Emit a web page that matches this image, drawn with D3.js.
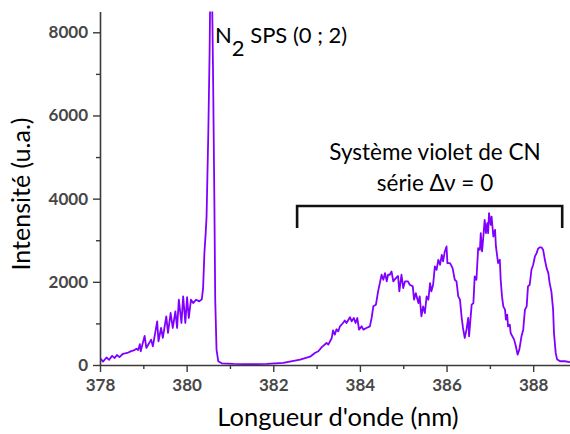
<!DOCTYPE html>
<html>
<head>
<meta charset="utf-8">
<script src="https://cdn.jsdelivr.net/npm/d3@7/dist/d3.min.js"></script>
<style>
  html, body { margin: 0; padding: 0; background: #fff; }
  svg { display: block; }
</style>
</head>
<body>
<svg id="chart" width="570" height="434"></svg>
<script>
// ---- data ----
const wavelength = [
  378.02,378.07,378.15,378.21,378.28,378.34,378.39,378.45,378.53,378.63,
  378.72,378.78,378.84,378.88,378.92,378.94,379.03,379.07,379.18,379.22,
  379.32,379.35,379.41,379.45,379.53,379.57,379.63,379.68,379.74,379.78,
  379.82,379.88,379.92,379.97,380.01,380.05,380.10,380.15,380.22,380.29,
  380.35,380.38,380.41,380.44,380.46,380.50,380.53,380.55,380.58,380.61,
  380.64,380.66,380.69,380.73,380.81,381.08,381.46,381.85,382.23,382.62,
  382.85,382.96,383.04,383.12,383.23,383.27,383.35,383.38,383.42,383.46,
  383.50,383.54,383.61,383.65,383.69,383.77,383.81,383.86,383.90,383.94,
  383.98,384.04,384.08,384.15,384.23,384.27,384.31,384.37,384.42,384.46,
  384.50,384.54,384.58,384.62,384.65,384.69,384.73,384.77,384.83,384.88,
  384.91,384.96,385.00,385.04,385.11,385.15,385.22,385.25,385.29,385.35,
  385.38,385.42,385.46,385.50,385.54,385.58,385.62,385.65,385.69,385.73,
  385.77,385.81,385.85,385.89,385.92,385.96,386.00,386.02,386.08,386.14,
  386.19,386.23,386.27,386.31,386.35,386.38,386.42,386.46,386.50,386.52,
  386.58,386.62,386.65,386.69,386.73,386.77,386.79,386.82,386.85,386.88,
  386.91,386.94,386.96,386.98,387.02,387.04,387.08,387.12,387.14,387.17,
  387.19,387.23,387.25,387.28,387.31,387.35,387.37,387.40,387.42,387.46,
  387.48,387.52,387.56,387.60,387.64,387.68,387.73,387.77,387.81,387.85,
  387.88,387.92,387.96,388.00,388.04,388.08,388.11,388.15,388.19,388.23,
  388.27,388.31,388.35,388.38,388.42,388.46,388.48,388.52,388.55,388.62,
  388.73,388.85
];
const intensity = [
  150,80,180,125,220,170,240,190,270,290,
  335,350,390,360,500,330,700,410,610,450,
  1050,570,890,650,1170,770,1250,890,1290,890,
  1570,1010,1650,1010,1630,1130,1570,1490,1570,1530,
  1580,1850,2690,3170,3570,5570,7500,9500,9500,7000,
  3970,1570,370,90,40,25,20,25,50,130,
  200,290,330,430,530,490,650,830,730,860,
  810,930,1010,1070,1010,1150,1050,1130,1010,1130,
  850,930,850,890,930,1130,1410,1450,1770,1970,
  2170,2050,2210,2010,2170,2170,2250,2010,2090,2140,
  1770,2170,1850,2010,2010,1930,1890,1570,1730,1490,
  1650,1170,1410,1250,1650,1570,1970,1770,1930,2370,
  2290,2530,2410,2650,2490,2730,2850,2450,2450,2330,
  2050,2010,1650,1570,1130,890,650,850,1130,690,
  1450,1490,2130,2050,2810,2770,3170,2730,3090,3490,
  3170,3410,3170,3650,3370,3570,3090,3250,2850,2610,
  2450,2530,2050,1650,1410,1330,1090,1210,930,970,
  770,690,610,450,250,370,690,850,1330,1410,
  1890,1930,2290,2410,2610,2690,2790,2830,2830,2770,
  2530,2330,2210,1970,1770,1330,770,290,140,90,
  90,70
];
const xMajorTicks = [378, 380, 382, 384, 386, 388];
const xMinorTicks = [379, 381, 383, 385, 387];
const yMajorTicks = [0, 2000, 4000, 6000, 8000];
const yMinorTicks = [1000, 3000, 5000, 7000];
const xDomain = [378, 388.85];
const yDomain = [0, 8500];
const xTitle = "Longueur d'onde (nm)";
const yTitle = "Intensité (u.a.)";
const peakLabelMain = "N";
const peakLabelSub = "2";
const peakLabelRest = " SPS (0 ; 2)";
const bandLine1 = "Système violet de CN";
const bandLine2 = "série Δν = 0";
const bandRange = [382.55, 388.67];

// ---- layout ----
const margin = {left: 100, top: 11.5, right: 0, bottom: 69};
const W = 570, H = 434;
const svg = d3.select("#chart");
const x = d3.scaleLinear().domain(xDomain).range([margin.left, W - margin.right]);
const y = d3.scaleLinear().domain(yDomain).range([H - margin.bottom, margin.top]);

const FONT = "Lato, 'Open Sans', 'DejaVu Sans', sans-serif";
const axisColor = "#3a3a3a";

svg.append("defs").append("clipPath").attr("id", "plotclip")
  .append("rect")
  .attr("x", x.range()[0]).attr("y", y.range()[1])
  .attr("width", x.range()[1] - x.range()[0])
  .attr("height", y.range()[0] - y.range()[1]);

// data line
const pts = wavelength.map((w, i) => [w, intensity[i]]);
svg.append("path")
  .datum(pts)
  .attr("clip-path", "url(#plotclip)")
  .attr("fill", "none")
  .attr("stroke", "#8000ff")
  .attr("stroke-width", 1.8)
  .attr("stroke-linejoin", "round")
  .attr("d", d3.line().x(d => x(d[0])).y(d => y(d[1])));

// axes
function styleAxis(g) {
  g.selectAll(".domain").attr("stroke", axisColor).attr("stroke-width", 1.6);
  g.selectAll(".tick line").attr("stroke", axisColor).attr("stroke-width", 1.4);
  g.selectAll("text").attr("fill", "#474747").attr("font-family", FONT)
    .attr("font-weight", "bold").attr("font-size", 17);
}
const xAxis = svg.append("g").attr("transform", `translate(0,${y(0)})`)
  .call(d3.axisBottom(x).tickValues(xMajorTicks).tickFormat(d3.format("d"))
        .tickSizeInner(7).tickSizeOuter(0).tickPadding(7));
styleAxis(xAxis);
svg.append("g").attr("transform", `translate(0,${y(0)})`)
  .call(d3.axisBottom(x).tickValues(xMinorTicks).tickFormat("").tickSizeInner(4).tickSizeOuter(0))
  .call(g => g.select(".domain").remove())
  .call(g => g.selectAll(".tick line").attr("stroke", axisColor).attr("stroke-width", 1.4));

const yAxis = svg.append("g").attr("transform", `translate(${x(xDomain[0])},0)`)
  .call(d3.axisLeft(y).tickValues(yMajorTicks).tickFormat(d3.format("d"))
        .tickSizeInner(7).tickSizeOuter(0).tickPadding(5));
styleAxis(yAxis);
svg.append("g").attr("transform", `translate(${x(xDomain[0])},0)`)
  .call(d3.axisLeft(y).tickValues(yMinorTicks).tickFormat("").tickSizeInner(4).tickSizeOuter(0))
  .call(g => g.select(".domain").remove())
  .call(g => g.selectAll(".tick line").attr("stroke", axisColor).attr("stroke-width", 1.4));

// axis titles
svg.append("text")
  .attr("x", 338)
  .attr("y", 426)
  .attr("text-anchor", "middle")
  .attr("font-family", FONT).attr("font-size", 25.5).attr("fill", "#000")
  .text(xTitle);
svg.append("text")
  .attr("transform", "translate(30,194) rotate(-90)")
  .attr("text-anchor", "middle")
  .attr("font-family", FONT).attr("font-size", 25).attr("fill", "#000")
  .text(yTitle);

// peak annotation
const pk = svg.append("text")
  .attr("x", 215).attr("y", 43)
  .attr("font-family", FONT).attr("font-size", 22).attr("fill", "#000");
pk.append("tspan").text(peakLabelMain);
pk.append("tspan").attr("dy", 13).text(peakLabelSub);
pk.append("tspan").attr("dy", -13).text(peakLabelRest);

// band annotation
const bandCx = 435;
svg.append("text").attr("x", bandCx).attr("y", 160).attr("text-anchor", "middle")
  .attr("font-family", FONT).attr("font-size", 22.5).attr("fill", "#000").text(bandLine1);
svg.append("text").attr("x", bandCx).attr("y", 191).attr("text-anchor", "middle")
  .attr("font-family", FONT).attr("font-size", 22.5).attr("fill", "#000").text(bandLine2);

const bx0 = x(bandRange[0]), bx1 = x(bandRange[1]);
svg.append("path")
  .attr("d", `M${bx0},228 L${bx0},206 L${bx1},206 L${bx1},228`)
  .attr("fill", "none").attr("stroke", "#111").attr("stroke-width", 2.6);
</script>
</body>
</html>
